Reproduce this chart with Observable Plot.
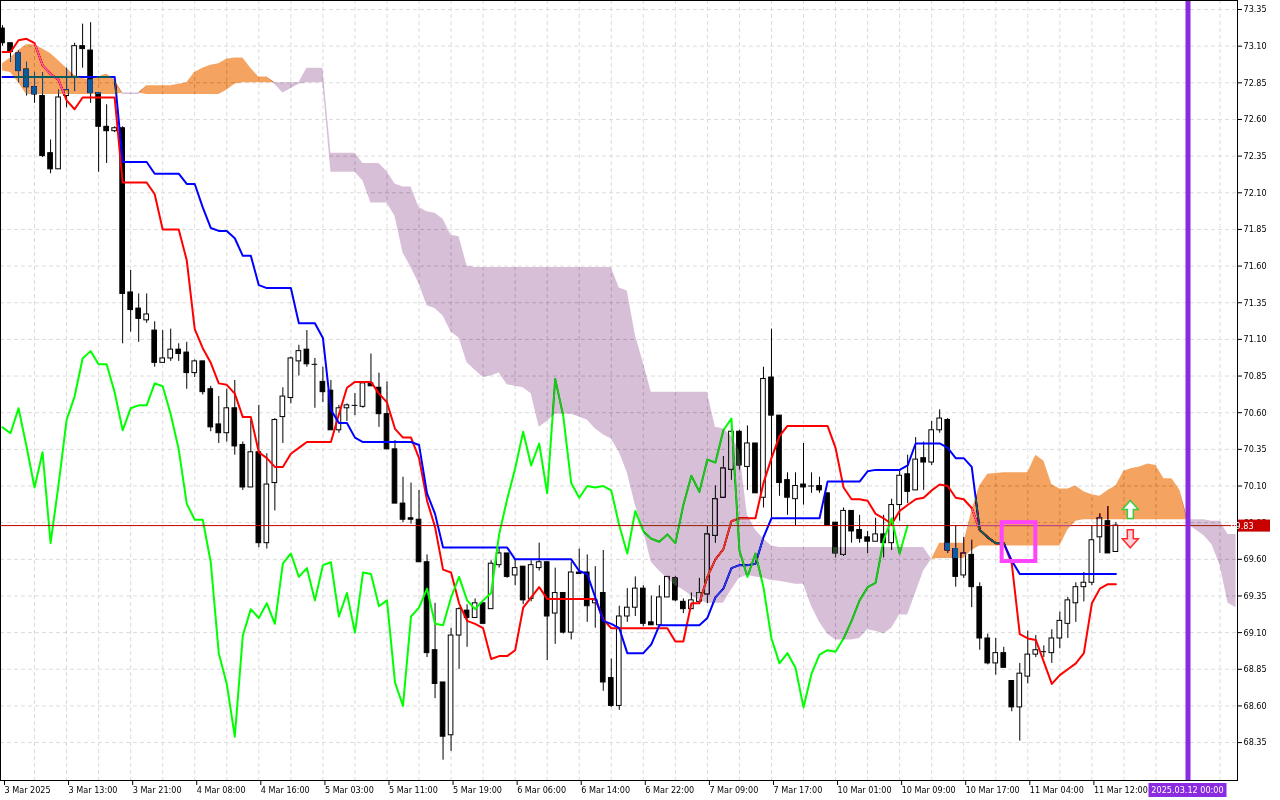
<!DOCTYPE html>
<html><head><meta charset="utf-8">
<script src="https://cdn.jsdelivr.net/npm/d3@7"></script>
<script src="https://cdn.jsdelivr.net/npm/@observablehq/plot@0.6"></script>
<style>html,body{margin:0;padding:0;background:#fff;} #chart svg{display:block}</style>
</head><body><div id="chart"></div>
<script>
// ---- data (hourly bars, index 0 = 3 Mar 2025 00:00) ----
const opens = [
73.22,73.12,73.05,72.94,72.82,72.76,72.37,72.26,72.76,72.89,
73.10,73.07,72.78,72.55,72.52,72.54,71.42,71.31,71.23,71.16,
70.94,70.97,71.03,71.01,70.87,70.95,70.76,70.52,70.46,70.63,
70.38,70.09,70.33,69.71,70.12,70.57,70.70,70.95,71.03,70.93,
70.81,70.75,70.48,70.63,70.65,70.64,70.80,70.77,70.59,70.35,
69.98,69.88,69.87,69.58,68.98,68.76,68.40,69.08,69.25,69.20,
69.30,69.26,69.56,69.64,69.49,69.55,69.33,69.54,69.58,69.23,
69.37,69.10,69.51,69.51,69.30,69.37,68.79,68.60,69.21,69.27,
69.40,69.17,69.15,69.34,69.47,69.31,69.26,69.31,69.36,69.76,
70.02,70.21,70.47,70.23,70.39,70.02,70.84,70.58,70.14,70.01,
70.11,70.10,70.10,70.05,69.85,69.63,69.93,69.80,69.75,69.72,
69.77,69.71,69.97,70.18,70.07,70.29,70.26,70.48,70.55,69.67,
69.49,69.63,69.41,69.06,68.89,68.96,68.77,68.59,68.80,68.95,
68.97,68.96,69.06,69.16,69.30,69.41,69.44,69.75,69.86,69.65];
const highs = [
73.24,73.12,73.07,72.99,72.92,72.92,72.46,72.80,72.95,73.12,
73.25,73.26,72.78,72.70,72.55,72.55,71.57,71.41,71.41,71.22,
71.16,71.17,71.07,71.08,70.96,70.95,70.78,70.71,70.76,70.82,
70.40,70.55,70.65,70.32,70.56,70.77,70.98,71.06,71.16,70.97,
70.91,70.82,70.65,70.66,70.73,70.81,71.00,70.87,70.81,70.41,
70.16,70.12,70.07,69.63,69.30,68.76,69.13,69.27,69.29,69.33,
69.30,69.59,69.68,69.64,69.60,69.55,69.59,69.71,69.58,69.54,
69.37,69.58,69.67,69.63,69.55,69.66,68.92,69.28,69.40,69.48,
69.42,69.35,69.42,69.48,69.48,69.33,69.37,69.47,69.83,70.10,
70.30,70.50,70.48,70.51,70.39,70.91,71.17,70.58,70.19,70.19,
70.39,70.19,70.16,70.05,69.85,69.95,69.93,69.90,69.79,69.88,
69.90,70.01,70.21,70.31,70.43,70.40,70.54,70.62,70.56,69.83,
69.75,69.73,69.44,69.09,69.06,69.00,68.77,68.89,69.11,69.08,
69.01,69.12,69.24,69.34,69.44,69.51,69.83,69.91,69.96,69.85];
const lows = [
73.10,72.99,72.85,72.76,72.71,72.34,72.23,72.26,72.68,72.79,
72.95,72.71,72.24,72.30,72.51,71.07,71.15,71.08,71.21,70.91,
70.94,70.95,70.95,70.76,70.84,70.72,70.47,70.39,70.40,70.31,
70.07,70.09,69.68,69.67,69.93,70.39,70.66,70.85,70.91,70.63,
70.67,70.48,70.46,70.54,70.58,70.63,70.78,70.50,70.35,69.98,
69.85,69.84,69.58,68.93,68.65,68.23,68.29,68.85,69.00,69.20,
69.16,69.26,69.54,69.47,69.42,69.29,69.31,69.52,68.91,69.02,
69.09,69.05,69.50,69.17,69.13,68.70,68.59,68.57,69.17,69.21,
69.14,69.15,69.15,69.34,69.31,69.23,69.26,69.30,69.30,69.71,
70.02,70.14,70.21,70.07,70.05,69.95,69.88,70.03,69.90,69.83,
69.97,70.05,70.05,69.83,69.61,69.62,69.71,69.71,69.64,69.72,
69.61,69.66,69.86,69.98,70.07,70.07,70.24,70.46,69.64,69.41,
69.47,69.27,68.98,68.88,68.81,68.86,68.56,68.36,68.75,68.93,
68.93,68.89,68.99,69.06,69.17,69.31,69.42,69.64,69.64,69.65];
const closes = [
73.12,73.06,72.93,72.82,72.77,72.35,72.26,72.75,72.80,73.10,
73.08,72.78,72.55,72.52,72.54,71.41,71.30,71.24,71.27,70.94,
70.97,71.03,71.00,70.87,70.95,70.74,70.50,70.46,70.63,70.37,
70.09,70.33,69.71,70.11,70.55,70.71,70.97,71.02,70.93,70.93,
70.74,70.48,70.63,70.65,70.65,70.80,70.78,70.59,70.35,69.98,
69.87,69.87,69.58,68.96,68.75,68.39,69.08,69.26,69.20,69.30,
69.16,69.57,69.64,69.48,69.54,69.32,69.56,69.58,69.21,69.37,
69.10,69.51,69.50,69.28,69.32,68.76,68.60,69.21,69.27,69.40,
69.16,69.15,69.34,69.48,69.32,69.26,69.32,69.37,69.77,70.01,
70.22,70.47,70.24,70.39,70.05,70.83,70.58,70.12,70.02,70.10,
70.09,70.10,70.07,69.83,69.64,69.93,69.79,69.74,69.72,69.77,
69.71,69.97,70.17,70.06,70.28,70.26,70.48,70.56,69.66,69.48,
69.64,69.41,69.06,68.89,68.96,68.86,68.59,68.82,68.95,68.98,
68.97,69.06,69.18,69.32,69.41,69.44,69.73,69.88,69.64,69.83];
// Tenkan-sen (red)
const tenkan = [
73.06,73.06,73.14,73.15,73.12,72.97,72.91,72.87,72.73,72.67,
72.75,72.75,72.75,72.75,72.75,72.17,72.17,72.17,72.17,72.09,
71.85,71.85,71.85,71.64,71.17,71.04,70.94,70.80,70.79,70.73,
70.57,70.57,70.33,70.29,70.23,70.23,70.32,70.36,70.40,70.40,
70.40,70.40,70.59,70.77,70.81,70.81,70.81,70.73,70.67,70.49,
70.43,70.43,70.29,70.00,69.82,69.53,69.51,69.30,69.18,69.16,
69.13,68.92,68.94,68.94,68.98,69.27,69.34,69.41,69.33,69.33,
69.33,69.33,69.33,69.33,69.33,69.19,69.13,69.13,69.13,69.13,
69.13,69.13,69.13,69.13,69.04,69.04,69.30,69.30,69.48,69.60,
69.67,69.86,69.88,69.88,69.88,70.12,70.29,70.44,70.51,70.51,
70.51,70.51,70.51,70.51,70.36,70.09,70.01,70.01,70.00,69.91,
69.88,69.84,69.93,69.97,70.01,70.02,70.07,70.11,70.10,70.02,
70.01,69.95,69.80,69.75,69.71,69.71,69.57,69.09,69.06,69.05,
68.90,68.75,68.81,68.85,68.89,68.96,69.30,69.40,69.43,69.43];
// Kijun-sen (blue)
const kijun = [
72.89,72.89,72.89,72.89,72.89,72.89,72.89,72.89,72.89,72.89,
72.89,72.89,72.89,72.89,72.89,72.31,72.31,72.31,72.31,72.23,
72.23,72.23,72.23,72.16,72.16,72.00,71.86,71.84,71.84,71.79,
71.67,71.67,71.47,71.45,71.45,71.45,71.45,71.21,71.21,71.21,
71.11,70.62,70.53,70.53,70.43,70.40,70.40,70.40,70.40,70.40,
70.40,70.40,70.38,70.05,69.91,69.68,69.68,69.68,69.68,69.68,
69.68,69.68,69.68,69.68,69.60,69.60,69.60,69.60,69.60,69.60,
69.60,69.60,69.52,69.50,69.34,69.18,69.16,69.13,68.96,68.96,
68.96,69.02,69.15,69.15,69.15,69.15,69.15,69.15,69.20,69.34,
69.40,69.54,69.56,69.56,69.57,69.75,69.88,69.88,69.88,69.88,
69.88,69.88,69.88,70.13,70.13,70.13,70.13,70.13,70.20,70.21,
70.21,70.21,70.21,70.24,70.39,70.39,70.39,70.39,70.36,70.29,
70.29,70.23,69.80,69.75,69.71,69.71,69.59,69.50,69.50,69.50,
69.50,69.50,69.50,69.50,69.50,69.50,69.50,69.50,69.50,69.50];
// Senkou Span A / B (already shifted 26 bars ahead, bars 0..154)
const spanA = [
72.98,73.02,73.07,73.11,73.11,73.08,73.05,73.00,72.95,72.90,
72.88,72.87,72.89,72.91,72.87,72.77,72.77,72.77,72.83,72.83,
72.83,72.83,72.84,72.85,72.92,72.95,72.97,72.98,73.01,73.02,
73.02,72.95,72.89,72.89,72.84,72.78,72.81,72.84,72.85,72.85,
72.85,72.24,72.24,72.24,72.24,72.18,72.03,72.03,72.03,71.94,
71.69,71.59,71.48,71.33,71.31,71.26,71.15,71.11,70.94,70.89,
70.84,70.85,70.87,70.79,70.78,70.77,70.73,70.50,70.54,70.59,
70.59,70.59,70.57,70.55,70.49,70.45,70.42,70.33,70.19,69.97,
69.80,69.58,69.52,69.47,69.42,69.39,69.35,69.32,69.30,69.30,
69.30,69.39,69.47,69.49,69.48,69.47,69.455,69.45,69.44,69.43,
69.43,69.28,69.17,69.09,69.05,69.05,69.05,69.06,69.12,69.11,
69.09,69.13,69.22,69.22,69.37,69.52,69.60,69.71,69.71,69.71,
69.71,69.93,70.10,70.18,70.185,70.19,70.19,70.19,70.19,70.31,
70.27,70.11,70.08,70.08,70.10,70.06,70.04,70.03,70.07,70.10,
70.20,70.22,70.23,70.25,70.24,70.15,70.15,70.07,69.84,69.80,
69.76,69.70,69.56,69.30,69.27];
const spanB = [
72.93,72.92,72.85,72.77,72.77,72.77,72.77,72.77,72.77,72.77,
72.77,72.77,72.77,72.77,72.77,72.78,72.78,72.78,72.77,72.77,
72.77,72.77,72.77,72.77,72.77,72.77,72.77,72.77,72.80,72.84,
72.85,72.85,72.85,72.85,72.85,72.85,72.85,72.85,72.95,72.95,
72.95,72.37,72.37,72.37,72.37,72.30,72.30,72.30,72.245,72.16,
72.14,72.14,72.00,71.97,71.96,71.92,71.81,71.80,71.60,71.59,
71.59,71.59,71.59,71.59,71.59,71.59,71.59,71.59,71.59,71.59,
71.59,71.59,71.59,71.59,71.59,71.59,71.59,71.45,71.43,71.13,
70.94,70.74,70.74,70.74,70.74,70.74,70.74,70.74,70.74,70.50,
70.49,70.44,70.34,69.90,69.80,69.74,69.69,69.68,69.68,69.68,
69.68,69.68,69.68,69.68,69.68,69.68,69.68,69.68,69.68,69.68,
69.68,69.68,69.68,69.68,69.68,69.68,69.60,69.605,69.605,69.605,
69.605,69.66,69.69,69.69,69.69,69.69,69.69,69.69,69.69,69.69,
69.69,69.69,69.69,69.80,69.86,69.87,69.87,69.87,69.87,69.87,
69.87,69.87,69.87,69.87,69.87,69.87,69.87,69.87,69.87,69.87,
69.87,69.86,69.86,69.77,69.77];
const chikouShift = 26;
const lastPrice = 69.83;
const markerBar = 148;            // 2025.03.12 00:00
const markerLabel = "2025.03.12 00:00";
const yTicks = [68.35,68.60,68.85,69.10,69.35,69.60,69.85,70.10,70.35,70.60,70.85,71.10,71.35,71.60,71.85,72.10,72.35,72.60,72.85,73.10,73.35];
const xTickBars = [0,8,16,24,32,40,48,56,64,72,80,88,96,104,112,120,128,136];
const xTickLabels = ["3 Mar 2025","3 Mar 13:00","3 Mar 21:00","4 Mar 08:00","4 Mar 16:00","5 Mar 03:00","5 Mar 11:00","5 Mar 19:00","6 Mar 06:00","6 Mar 14:00","6 Mar 22:00","7 Mar 09:00","7 Mar 17:00","10 Mar 01:00","10 Mar 09:00","10 Mar 17:00","11 Mar 04:00","11 Mar 12:00"];
const gridBars = [4,8,12,16,20,24,28,32,36,40,44,48,52,56,60,64,68,72,76,80,84,88,92,96,100,104,108,112,116,120,124,128,132,136,140,144,148,152];
const highlightBox = [{x1: 124.8, x2: 129.0, y1: 69.585, y2: 69.85}];
const upSignal = [{bar: 140.8, price: 69.94}];
const downSignal = [{bar: 140.8, price: 69.74}];

// ---- derived tables ----
const candles = opens.map((o, i) => ({i, o, h: highs[i], l: lows[i], c: closes[i]}));
const cloud = spanA.map((a, i) => ({i, a, b: spanB[i]}));

const upArrow = {draw(ctx) {ctx.moveTo(0,-9);ctx.lineTo(8,0);ctx.lineTo(3,0);ctx.lineTo(3,9);ctx.lineTo(-3,9);ctx.lineTo(-3,0);ctx.lineTo(-8,0);ctx.closePath();}};
const downArrow = {draw(ctx) {ctx.moveTo(0,9);ctx.lineTo(8,0);ctx.lineTo(3,0);ctx.lineTo(3,-9);ctx.lineTo(-3,-9);ctx.lineTo(-3,0);ctx.lineTo(-8,0);ctx.closePath();}};

const FONT = '"DejaVu Sans Condensed", "Liberation Sans Narrow", "Liberation Sans", sans-serif';
const grid = {stroke: "#dcdcdc", strokeDasharray: "4 3", strokeWidth: 1};

const chart = Plot.plot({
  width: 1280, height: 800,
  marginLeft: 0, marginRight: 43, marginTop: 0, marginBottom: 20,
  style: {fontFamily: FONT, fontSize: "9px", background: "white", color: "black", overflow: "visible"},
  x: {domain: [-0.25, 154.18], axis: null},
  y: {domain: [68.0914, 73.4114], axis: null},
  color: {type: "identity"},
  marks: [
    Plot.frame({fill: "white", stroke: null}),
    Plot.ruleY(yTicks, grid),
    Plot.ruleX(gridBars, grid),
    Plot.ruleX(candles, {x: "i", y1: "l", y2: "h", stroke: "black", strokeWidth: 1}),
    Plot.rect(candles, {x1: d => d.i - 0.29, x2: d => d.i + 0.29, y1: "o", y2: "c",
      fill: d => d.c >= d.o ? "white" : "black", stroke: "black", strokeWidth: 1}),
    Plot.ruleY(candles, {filter: d => Math.abs(d.c - d.o) < 0.005, y: "c", x1: d => d.i - 0.35, x2: d => d.i + 0.35, stroke: "black"}),
    Plot.line(tenkan, {x: (d, i) => i, y: d => d, stroke: "#ff0000", strokeWidth: 2}),
    Plot.line(kijun, {x: (d, i) => i, y: d => d, stroke: "#0000ff", strokeWidth: 2}),
    Plot.line(closes.slice(chikouShift), {x: (d, i) => i, y: d => d, stroke: "#00ff00", strokeWidth: 2}),
    Plot.ruleY([lastPrice], {stroke: "#c00000", strokeWidth: 1}),
    // Kumo: drawn in "difference" mode with inverted colours, as the terminal does
    Plot.areaY(cloud, {x: "i", y1: "b", y2: d => Math.max(d.a, d.b), fill: "#0b5b9f", curve: "linear"}),
    Plot.areaY(cloud, {x: "i", y1: "a", y2: d => Math.max(d.a, d.b), fill: "#274027", curve: "linear"}),
    Plot.ruleX([markerBar], {stroke: "#8a2be2", strokeWidth: 5}),
    Plot.rect(highlightBox, {x1: "x1", x2: "x2", y1: "y1", y2: "y2", fill: "none", stroke: "#ff44ff", strokeWidth: 4}),
    Plot.dot(upSignal, {x: "bar", y: "price", symbol: upArrow, r: 5, fill: "white", stroke: "#3ccc3c", strokeWidth: 1.5}),
    Plot.dot(downSignal, {x: "bar", y: "price", symbol: downArrow, r: 5, fill: "#ffd4dc", stroke: "#ff2a2a", strokeWidth: 1.5}),
    Plot.frame({stroke: "black", strokeWidth: 1}),
    Plot.axisY(yTicks, {anchor: "right", tickSize: 4, tickPadding: 2, tickFormat: d => d.toFixed(2)}),
    Plot.axisX(xTickBars, {anchor: "bottom", tickSize: 5, tickPadding: 1, textAnchor: "start", dx: 2,
      tickFormat: d => xTickLabels[xTickBars.indexOf(d)]})
  ]
});

const svg = d3.select(chart);
svg.selectAll('g[aria-label="area"]').style("mix-blend-mode", "difference");
const xs = chart.scale("x"), ys = chart.scale("y");
// last price tag
const py = ys.apply(lastPrice);
svg.append("rect").attr("x", 1238).attr("y", py - 5.5).attr("width", 32).attr("height", 12).attr("fill", "#c80000");
svg.append("text").attr("x", 1242).attr("y", py + 0.5).attr("dy", "0.35em").attr("fill", "white")
  .attr("font-family", FONT).attr("font-size", 9).text(lastPrice.toFixed(2));
// time marker tag
const mx = xs.apply(markerBar);
svg.append("rect").attr("x", mx - 39).attr("y", 783).attr("width", 78).attr("height", 14).attr("fill", "#8a2be2");
svg.append("text").attr("x", mx).attr("y", 790).attr("dy", "0.35em").attr("text-anchor", "middle").attr("fill", "white")
  .attr("font-family", FONT).attr("font-size", 9).text(markerLabel);

document.getElementById("chart").append(chart);
</script></body></html>
